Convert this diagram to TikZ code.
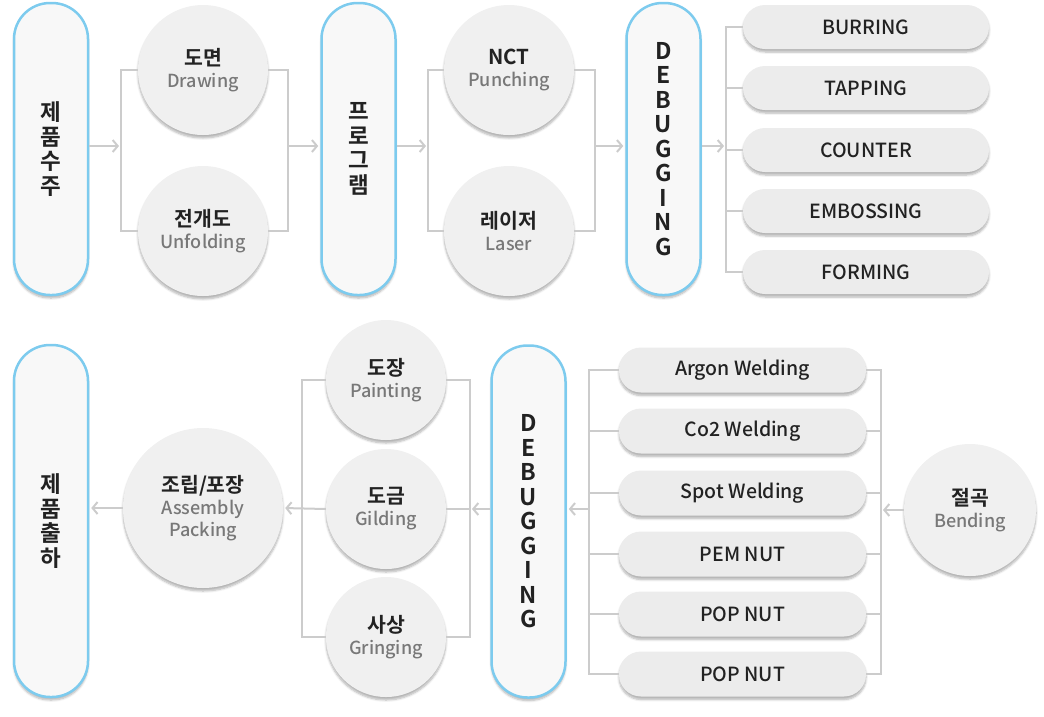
\documentclass[tikz,border=0pt]{standalone}
\usepackage{fontspec}
\setmainfont{Noto Sans CJK KR}[UprightFont={* Medium}, BoldFont={* Bold}]
\usepackage{tikz}
\usetikzlibrary{positioning, arrows.meta, shadows.blur}
\definecolor{skyline}{RGB}{125,203,238}
\definecolor{pillbg}{RGB}{248,248,248}
\definecolor{ballbg}{RGB}{240,240,240}
\definecolor{tagbg}{RGB}{236,236,236}
\definecolor{wirec}{RGB}{204,204,204}
\definecolor{subtext}{RGB}{120,120,120}
\definecolor{maintext}{RGB}{34,34,34}
\tikzset{
  softshadow/.style={blur shadow={shadow xshift=0pt, shadow yshift=-3pt, shadow opacity=30, shadow blur steps=6}},
  stage/.style={
    rectangle, rounded corners=36pt, draw=skyline, line width=2.5pt, fill=pillbg,
    minimum width=74pt, minimum height=292pt, align=center, text=maintext,
    font=\fontsize{22.5}{24.5}\selectfont\bfseries, softshadow
  },
  ball/.style={
    circle, fill=ballbg, minimum size=130pt, inner sep=0pt, align=center,
    text=subtext, font=\fontsize{18}{22}\selectfont, softshadow
  },
  tag/.style={
    rectangle, rounded corners=22pt, fill=tagbg, minimum width=246pt, minimum height=44pt,
    text=maintext, font=\fontsize{19.5}{24}\selectfont, softshadow
  },
  wire/.style={draw=wirec, line width=2pt},
  flow/.style={wire, -{Straight Barb[length=5pt,width=12pt]}, shorten >=2pt},
}
\newcommand{\balltext}[2]{{\fontsize{20.5}{22}\selectfont\bfseries\color{maintext}#1}\\#2}

\begin{document}
\begin{tikzpicture}[x=1pt, y=-1pt]
  \useasboundingbox (0,0) rectangle (1044,716);

  % top row
  \node[stage] (order) at (51,149) {제\\품\\수\\주};
  \node[ball] (drw) at (203,70) {\balltext{도면}{Drawing}};
  \node[ball] (unf) at (203,231) {\balltext{전개도}{Unfolding}};
  \node[stage] (prog) at (358.5,149) {프\\로\\그\\램};
  \node[ball] (nct) at (509,70) {\balltext{NCT}{Punching}};
  \node[ball] (laser) at (509,231) {\balltext{레이저}{Laser}};
  \node[stage, font=\fontsize{23}{24.5}\selectfont\bfseries] (dbg1) at (663.5,149) {D\\E\\B\\U\\G\\G\\I\\N\\G};
  \node[tag] (t1) at (866,27) {BURRING};
  \node[tag] (t2) at (866,88) {TAPPING};
  \node[tag] (t3) at (866,150) {COUNTER};
  \node[tag] (t4) at (866,211) {EMBOSSING};
  \node[tag] (t5) at (866,272) {FORMING};

  \coordinate (j1) at (121,146);
  \coordinate (j2) at (288,146);
  \coordinate (j3) at (428,146);
  \coordinate (j4) at (595,146);
  \coordinate (j5) at (726,146);

  \draw[flow] (order.east |- j1) -- (j1);
  \draw[wire] (drw.west) -| (j1) |- (unf.west);
  \draw[wire] (drw.east) -| (j2) |- (unf.east);
  \draw[flow] (j2) -- (prog.west |- j2);
  \draw[flow] (prog.east |- j3) -- (j3);
  \draw[wire] (nct.west) -| (j3) |- (laser.west);
  \draw[wire] (nct.east) -| (j4) |- (laser.east);
  \draw[flow] (j4) -- (dbg1.west |- j4);
  \draw[flow] (dbg1.east |- j5) -- (j5);
  \draw[wire] (t1.west) -| (j5) |- (t5.west);
  \foreach \t in {t2,t3,t4}
    \draw[wire] (\t.west) -- (\t.west -| j5);

  % bottom row
  \node[stage, minimum height=352pt] (ship) at (51,521) {제\\품\\출\\하};
  \node[ball, minimum size=160pt] (asm) at (203,508) {\balltext{조립/포장}{Assembly\\Packing}};
  \node[ball, minimum size=120pt] (paint) at (386,380) {\balltext{도장}{Painting}};
  \node[ball, minimum size=120pt] (gild) at (386,509) {\balltext{도금}{Gilding}};
  \node[ball, minimum size=120pt] (gring) at (386,637) {\balltext{사상}{Gringing}};
  \node[stage, minimum height=352pt, font=\fontsize{23}{24.5}\selectfont\bfseries] (dbg2) at (528.5,521.5) {D\\E\\B\\U\\G\\G\\I\\N\\G};
  \node[tag, minimum width=247pt, minimum height=45pt] (w1) at (742.5,370) {Argon Welding};
  \node[tag, minimum width=247pt, minimum height=45pt] (w2) at (742.5,431) {Co2 Welding};
  \node[tag, minimum width=247pt, minimum height=45pt] (w3) at (742.5,493) {Spot Welding};
  \node[tag, minimum width=247pt, minimum height=45pt] (w4) at (742.5,554) {PEM NUT};
  \node[tag, minimum width=247pt, minimum height=45pt] (w5) at (742.5,614) {POP NUT};
  \node[tag, minimum width=247pt, minimum height=45pt] (w6) at (742.5,674) {POP NUT};
  \node[ball, minimum size=132pt] (bend) at (970,510) {\balltext{절곡}{Bending}};

  \coordinate (j6) at (881,510);
  \coordinate (j7) at (589,509);
  \coordinate (j8) at (470,509);
  \coordinate (j9) at (302,509);

  \draw[flow] (bend.west) -- (j6);
  \draw[wire] (w1.east) -| (j6) |- (w6.east);
  \draw[wire] (w1.west) -| (j7) |- (w6.west);
  \foreach \w in {w2,w3,w4,w5} {
    \draw[wire] (\w.east) -- (\w.east -| j6);
    \draw[wire] (\w.west) -- (\w.west -| j7);
  }
  \draw[flow] (j7) -- (dbg2.east |- j7);
  \draw[flow] (dbg2.west |- j8) -- (j8);
  \draw[wire] (paint.east) -| (j8) |- (gring.east);
  \draw[wire] (gild.east) -- (j8);
  \draw[wire] (paint.west) -| (j9) |- (gring.west);
  \draw[flow] (gild.west) -- (asm.east);
  \draw[flow] (asm.west) -- (ship.east |- asm.west);
\end{tikzpicture}
\end{document}
